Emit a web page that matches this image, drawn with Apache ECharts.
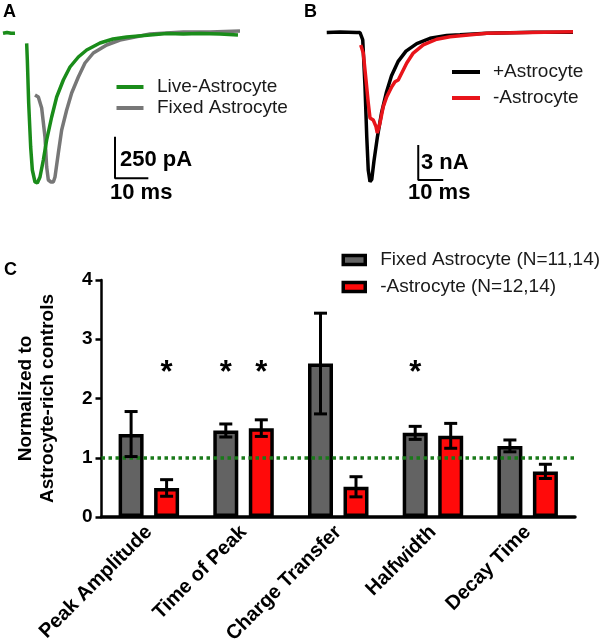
<!DOCTYPE html>
<html><head><meta charset="utf-8">
<script src="https://cdn.jsdelivr.net/npm/echarts@6/dist/echarts.min.js"></script>
<style>html,body{margin:0;padding:0;background:#fff}#c{width:606px;height:640px}</style>
</head><body><div id="c"></div>
<script>
// ---------- Panel A : [time (ms), current (pA)] ----------
const liveBaseline = [[0.9,-2],[2.1,3],[3.3,-2],[4.5,-1]];
const liveTrace = [[8.0,-62],[8.2,-162],[8.6,-420],[9.2,-684],[9.7,-822],[10.5,-894],[11.2,-900],[12.0,-864],[13.0,-762],[14.0,-642],[15.5,-504],[17.0,-384],[19.0,-282],[21.0,-204],[23.5,-144],[26.0,-102],[30.0,-60],[33.9,-36],[38.0,-24],[45.0,-12],[50.1,-3],[55,-6],[60,-3],[66,-6],[71.4,-12]];
const fixedTrace = [[10.5,-372],[11.5,-384],[12.5,-450],[13.5,-624],[14.0,-804],[14.5,-882],[15.3,-894],[16.0,-894],[16.5,-864],[17.5,-720],[18.5,-582],[20.0,-462],[21.5,-360],[23.5,-264],[25.5,-180],[28.0,-120],[32.0,-72],[36.0,-42],[45,-6],[55,6],[63,6],[72,12]];
const scaleBarA = [[34.5,-622],[34.5,-872],[44.5,-872]];
// ---------- Panel B : [time (ms), current (nA)] ----------
const plusTrace = [[10.7,0],[16,0.04],[22.7,0],[24,0],[25.1,-0.64],[26.0,-4.65],[26.7,-8.93],[27.3,-11.79],[28.0,-12.79],[28.7,-12.6],[29.6,-11.0],[31.0,-8.9],[32.6,-6.9],[34.6,-5.1],[36.6,-3.7],[39.2,-2.5],[42.4,-1.6],[46.7,-0.95],[52.0,-0.5],[58.7,-0.25],[64,-0.2],[74.7,-0.07],[93.2,0.02],[109.2,0.02]];
const minusTrace = [[24.3,-1.07],[25.3,-1.76],[26.4,-4.07],[27.3,-6.04],[28.0,-7.33],[29.3,-7.5],[30.4,-8.07],[30.9,-8.61],[32.0,-7.76],[33.3,-6.36],[34.7,-5.5],[36.7,-4.65],[38.0,-4.22],[39.3,-4.07],[40.7,-3.47],[42.7,-2.61],[45.3,-1.76],[49.3,-1.07],[54.7,-0.58],[60,-0.36],[74.7,-0.07],[109.2,0.07]];
const scaleBarB = [[47.3,-9.64],[47.3,-12.64],[57.3,-12.64]];
// ---------- Panel C ----------
const categories = ['Peak Amplitude','Time of Peak','Charge Transfer','Halfwidth','Decay Time'];
const fixedMean = [1.40,1.46,2.59,1.42,1.20];
const fixedErr  = [0.38,0.11,0.85,0.11,0.10];
const minusMean = [0.49,1.50,0.51,1.37,0.77];
const minusErr  = [0.14,0.14,0.17,0.21,0.12];
const fixedSig = [0,1,0,1,0];
const minusSig = [1,1,0,0,0];
const sigLevel = 2.52;
const refLevel = 1;

const FONT = "'Liberation Sans', Arial, Helvetica, sans-serif";
const BAR_W = 25, BAR_GAP = 0.42;
const BAR_OFF = BAR_W * (1 + BAR_GAP) / 2;

const chart = echarts.init(document.getElementById('c'), null, {renderer:'canvas'});

function errRender(sign){
  return function(params, api){
    const cat = api.value(0), lo = api.value(1), hi = api.value(2);
    const pT = api.coord([cat, hi]), pB = api.coord([cat, lo]);
    const x = pT[0] + sign * BAR_OFF, cap = 6.5;
    const st = {stroke:'#000', lineWidth:3};
    return {type:'group', children:[
      {type:'line', shape:{x1:x,y1:pT[1],x2:x,y2:pB[1]}, style:st},
      {type:'line', shape:{x1:x-cap,y1:pT[1],x2:x+cap,y2:pT[1]}, style:st},
      {type:'line', shape:{x1:x-cap,y1:pB[1],x2:x+cap,y2:pB[1]}, style:st}
    ]};
  };
}
function sigRender(sign){
  return function(params, api){
    const p = api.coord([api.value(0), api.value(1)]);
    return {type:'text', x:p[0] + sign*BAR_OFF, y:p[1] + 6, style:{text:'*', font:'bold 31px ' + FONT, fill:'#000', align:'center', verticalAlign:'middle'}};
  };
}
const errData = (m, e) => m.map((v,i)=>[i, v-e[i], v+e[i]]);
const sigData = (s) => s.map((v,i)=> v ? [i, sigLevel] : null).filter(d=>d);

const traceLine = (name, data, color, xi) => ({
  type:'line', name, data, xAxisIndex:xi, yAxisIndex:xi, showSymbol:false, symbol:'none',
  lineStyle:{color, width:3.5}, itemStyle:{color}, animation:false, silent:true
});
const barLine = (data, xi) => ({
  type:'line', data, xAxisIndex:xi, yAxisIndex:xi, showSymbol:false, symbol:'none',
  lineStyle:{color:'#000', width:2}, animation:false, silent:true
});

const legendText = (pad) => ({fontFamily:FONT, fontSize:19, color:'#1a1a1a', lineHeight:19, padding:[0,0,0,pad]});

const option = {
  animation:false,
  backgroundColor:'#fff',
  textStyle:{fontFamily:FONT},
  grid:[
    {left:0, top:3, width:250, height:230, outerBoundsMode:'none'},
    {left:300, top:3.33, width:300, height:192.5, outerBoundsMode:'none'},
    {left:101.5, top:280, width:473.5, height:237, outerBoundsMode:'none'}
  ],
  xAxis:[
    {type:'value', gridIndex:0, min:0, max:75, show:false},
    {type:'value', gridIndex:1, min:0, max:120, show:false},
    {type:'category', gridIndex:2, data:categories,
     axisLine:{lineStyle:{color:'#000', width:3.5}}, axisTick:{show:false},
     axisLabel:{interval:0, rotate:45, fontWeight:'bold', fontSize:20, color:'#000', fontFamily:FONT, margin:12}}
  ],
  yAxis:[
    {type:'value', gridIndex:0, min:-1200, max:180, show:false},
    {type:'value', gridIndex:1, min:-14, max:2.5, show:false},
    {type:'value', gridIndex:2, min:0, max:4, interval:1,
     name:'Normalized to\nAstrocyte-rich controls', nameLocation:'middle', nameGap:43,
     nameTextStyle:{fontWeight:'bold', fontSize:19, lineHeight:22, color:'#000', fontFamily:FONT},
     axisLine:{show:true, lineStyle:{color:'#000', width:2.5}},
     axisTick:{show:true, length:6, lineStyle:{color:'#000', width:2.5}},
     splitLine:{show:false},
     axisLabel:{fontWeight:'bold', fontSize:19, color:'#000', fontFamily:FONT, margin:9}}
  ],
  legend:[
    {data:['Live-Astrocyte','Fixed Astrocyte'], orient:'vertical', left:116.5, top:77.5, padding:0,
     icon:'rect', itemWidth:27, itemHeight:4, itemGap:2, textStyle:legendText(8.5), selectedMode:false},
    {data:['+Astrocyte','-Astrocyte'], orient:'vertical', left:452, top:62.5, padding:0,
     icon:'rect', itemWidth:28, itemHeight:4, itemGap:7, textStyle:legendText(8), selectedMode:false},
    {data:['Fixed Astrocyte (N=11,14)','-Astrocyte (N=12,14)'], orient:'vertical', left:341.5, top:250.5, padding:0,
     icon:'rect', itemWidth:22, itemHeight:9, itemGap:8, textStyle:legendText(10),
     itemStyle:{borderColor:'#000', borderWidth:3.5}, selectedMode:false}
  ],
  series:[
    traceLine('Fixed Astrocyte', fixedTrace, '#777777', 0),
    traceLine('Live-Astrocyte', liveBaseline, '#1a8c1a', 0),
    traceLine('Live-Astrocyte', liveTrace, '#1a8c1a', 0),
    barLine(scaleBarA, 0),
    traceLine('+Astrocyte', plusTrace, '#000000', 1),
    traceLine('-Astrocyte', minusTrace, '#e8141a', 1),
    barLine(scaleBarB, 1),
    {type:'bar', name:'Fixed Astrocyte (N=11,14)', data:fixedMean, xAxisIndex:2, yAxisIndex:2,
     barWidth:BAR_W, barGap:(BAR_GAP*100)+'%',
     itemStyle:{color:'#636363', borderColor:'#000', borderWidth:3.5}, silent:true,
     markLine:{silent:true, symbol:'none', label:{show:false},
       lineStyle:{color:'#1a7a1a', type:'dotted', width:3.5}, data:[{yAxis:refLevel}]}},
    {type:'bar', name:'-Astrocyte (N=12,14)', data:minusMean, xAxisIndex:2, yAxisIndex:2,
     barWidth:BAR_W, barGap:(BAR_GAP*100)+'%',
     itemStyle:{color:'#ff0a0a', borderColor:'#000', borderWidth:3.5}, silent:true},
    {type:'custom', xAxisIndex:2, yAxisIndex:2, data:errData(fixedMean, fixedErr), renderItem:errRender(-1), z:6, silent:true},
    {type:'custom', xAxisIndex:2, yAxisIndex:2, data:errData(minusMean, minusErr), renderItem:errRender(1), z:6, silent:true},
    {type:'custom', xAxisIndex:2, yAxisIndex:2, data:sigData(fixedSig), renderItem:sigRender(-1), z:6, silent:true},
    {type:'custom', xAxisIndex:2, yAxisIndex:2, data:sigData(minusSig), renderItem:sigRender(1), z:6, silent:true}
  ],
  graphic:[
    {type:'text', left:3, top:3, style:{text:'A', font:'bold 18px ' + FONT, fill:'#000'}},
    {type:'text', left:304, top:3, style:{text:'B', font:'bold 18px ' + FONT, fill:'#000'}},
    {type:'text', left:4, top:261, style:{text:'C', font:'bold 18px ' + FONT, fill:'#000'}},
    {type:'text', x:120, y:160, style:{text:'250 pA', font:'bold 22px ' + FONT, fill:'#000', verticalAlign:'middle'}},
    {type:'text', x:110, y:193, style:{text:'10 ms', font:'bold 22px ' + FONT, fill:'#000', verticalAlign:'middle'}},
    {type:'text', x:421, y:163, style:{text:'3 nA', font:'bold 22px ' + FONT, fill:'#000', verticalAlign:'middle'}},
    {type:'text', x:408, y:193, style:{text:'10 ms', font:'bold 22px ' + FONT, fill:'#000', verticalAlign:'middle'}}
  ]
};
chart.setOption(option);
</script>
</body></html>
